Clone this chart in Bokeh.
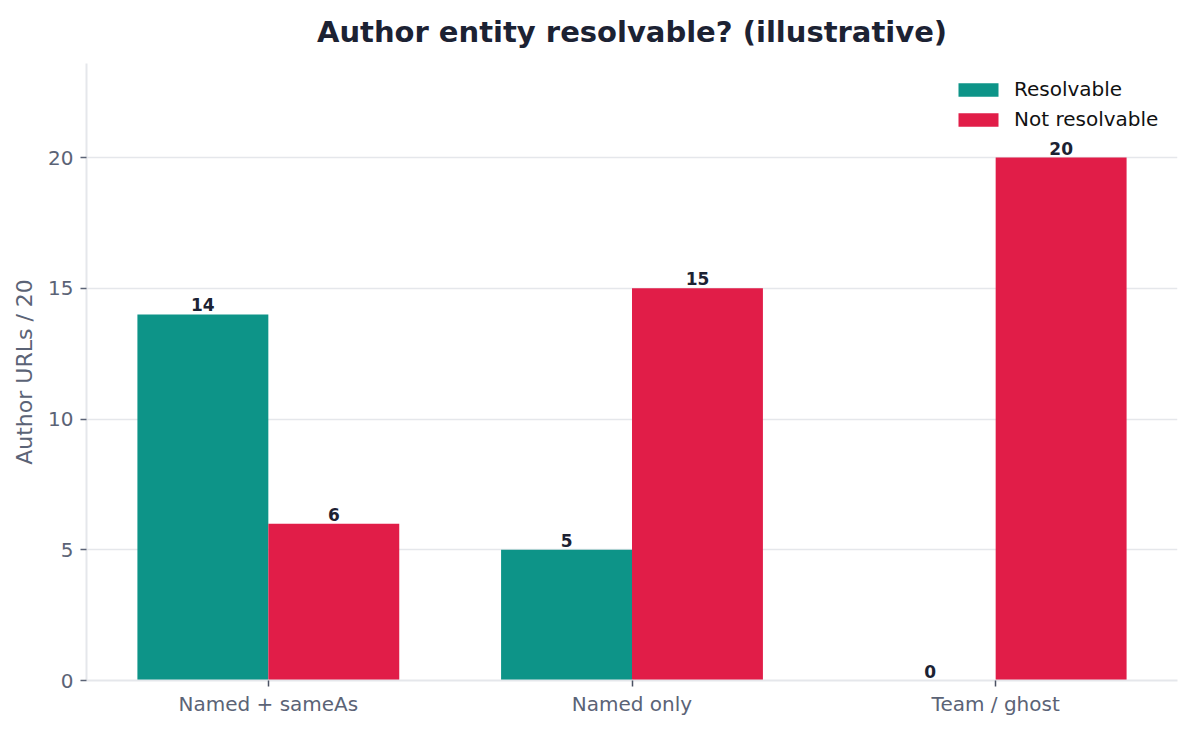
from bokeh.plotting import figure
from bokeh.models import ColumnDataSource, FactorRange, Range1d, Legend, LegendItem
from bokeh.transform import dodge
from bokeh.core.properties import value
from bokeh.embed import file_html
from bokeh.resources import INLINE

categories = ["Named + sameAs", "Named only", "Team / ghost"]
resolvable = [14, 5, 0]
not_resolvable = [6, 15, 20]
y_ticks = [0, 5, 10, 15, 20]

TEAL = "#0d9488"
ROSE = "#e11d48"
FONT = "DejaVu Sans"

src = ColumnDataSource(data=dict(
    cat=categories,
    res=resolvable,
    notres=not_resolvable,
    res_txt=[str(v) for v in resolvable],
    notres_txt=[str(v) for v in not_resolvable],
))

p = figure(x_range=FactorRange(*categories), y_range=Range1d(0, 23.6),
           width=1190, height=728, output_backend="svg", toolbar_location=None,
           min_border_left=86, min_border_right=13, min_border_top=63, min_border_bottom=48)

p.title.text = "Author entity resolvable? (illustrative)"
p.title.align = "center"
p.title.vertical_align = "top"
p.title.text_font = FONT
p.title.text_font_size = "29px"
p.title.text_font_style = "bold"
p.title.text_color = "#1c2233"
p.title.standoff = 25

r1 = p.vbar(x=dodge("cat", -0.18, range=p.x_range), top="res", width=0.36,
            source=src, color=TEAL, line_color=None)
r2 = p.vbar(x=dodge("cat", 0.18, range=p.x_range), top="notres", width=0.36,
            source=src, color=ROSE, line_color=None)

for off, col, txt in [(-0.18, "res", "res_txt"), (0.18, "notres", "notres_txt")]:
    p.text(x=dodge("cat", off, range=p.x_range), y=col, text=txt, source=src,
           text_align="center", text_baseline="bottom", y_offset=-3,
           text_font=value(FONT), text_font_size="17px", text_font_style="bold",
           text_color="#1c2233")

legend = Legend(items=[LegendItem(label="Resolvable", renderers=[r1]),
                       LegendItem(label="Not resolvable", renderers=[r2])],
                location="top_right")
legend.border_line_color = None
legend.background_fill_alpha = 0
legend.label_text_font = FONT
legend.label_text_font_size = "20px"
legend.label_text_color = "#111111"
legend.glyph_width = 50
legend.glyph_height = 17
legend.label_standoff = 11
legend.label_width = 149
legend.spacing = 6
legend.margin = 14
legend.padding = 6
p.add_layout(legend)

p.grid.grid_line_color = None
p.ygrid.grid_line_color = "#e5e7eb"
p.ygrid.grid_line_width = 1.5
p.ygrid.ticker = y_ticks
p.yaxis.ticker = y_ticks
p.outline_line_color = None

for ax in (p.xaxis, p.yaxis):
    ax.axis_line_color = "#e5e7eb"
    ax.axis_line_width = 2
    ax.major_label_text_font = FONT
    ax.major_label_text_font_size = "20px"
    ax.major_label_text_color = "#5b6376"
    ax.minor_tick_line_color = None
    ax.major_tick_in = 0
    ax.major_tick_out = 6
    ax.major_tick_line_width = 1.5

p.yaxis.major_tick_line_color = "#5b6376"
p.xaxis.major_tick_line_color = "#4b5263"
p.xaxis.major_label_standoff = 5
p.yaxis.major_label_standoff = 7

p.yaxis.axis_label = "Author URLs / 20"
p.yaxis.axis_label_text_font = FONT
p.yaxis.axis_label_text_font_size = "22px"
p.yaxis.axis_label_text_font_style = "normal"
p.yaxis.axis_label_text_color = "#5b6376"
p.yaxis.axis_label_standoff = 8

open("out.html", "w").write(file_html(p, INLINE))
